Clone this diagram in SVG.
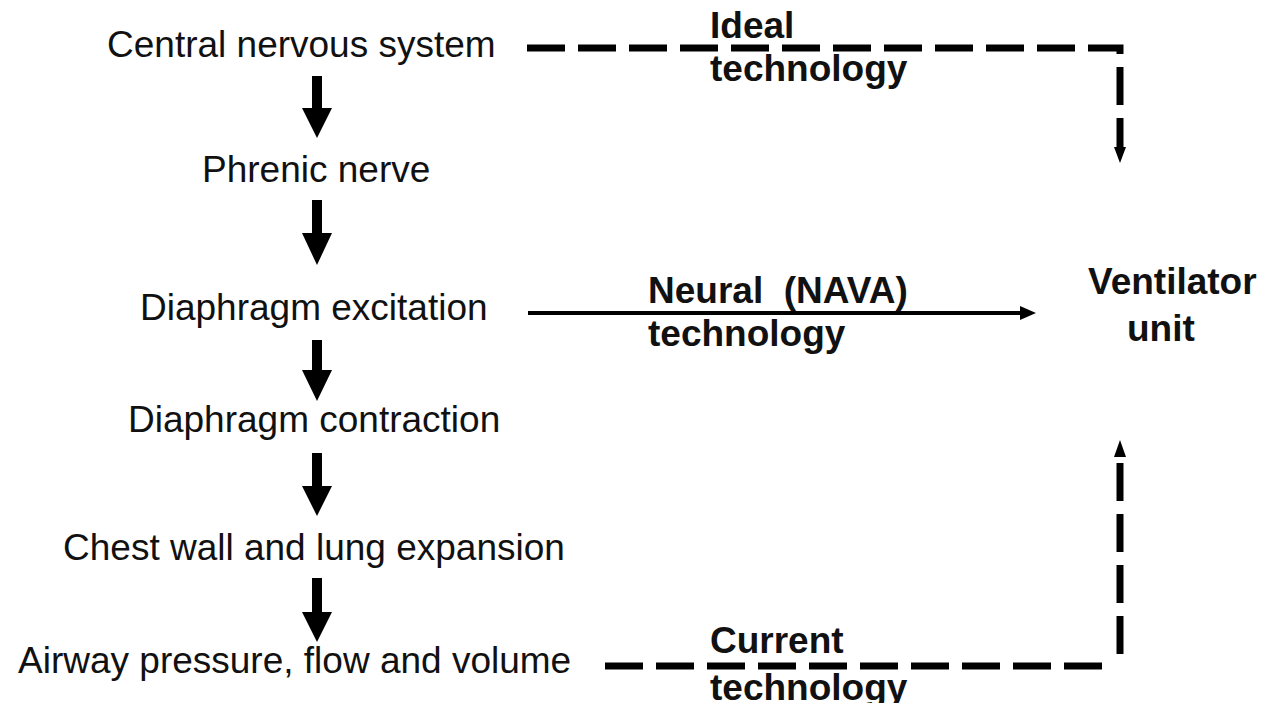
<svg xmlns="http://www.w3.org/2000/svg" width="1268" height="703" viewBox="0 0 1268 703">
<style>
text{font-family:"Liberation Sans",Arial,sans-serif;font-size:37px;fill:#111}
.b{font-weight:bold}
.dash{fill:none;stroke:#000;stroke-width:7;stroke-dasharray:38 13}
.solid{fill:none;stroke:#000;stroke-width:4}
.big{fill:#000}
</style>
<rect width="1268" height="703" fill="#fff"/>
<g id="cns"><text x="107" y="57">Central nervous system</text></g>
<g id="phrenic"><text x="202" y="182">Phrenic nerve</text></g>
<g id="excitation"><text x="140" y="320">Diaphragm excitation</text></g>
<g id="contraction"><text x="128" y="432">Diaphragm contraction</text></g>
<g id="chest"><text x="63" y="560">Chest wall and lung expansion</text></g>
<g id="airway"><text x="18" y="673">Airway pressure, flow and volume</text></g>
<g id="ventilator"><text class="b" x="1088" y="294">Ventilator</text><text class="b" x="1127" y="341">unit</text></g>
<g id="connectors">
<path class="big" d="M312,76 H322 V108 H332 L317,138 L302,108 H312 Z"/>
<path class="big" d="M312,200 H322 V233 H332 L317,265 L302,233 H312 Z"/>
<path class="big" d="M312,340 H322 V370 H332 L317,401 L302,370 H312 Z"/>
<path class="big" d="M312,453 H322 V486 H332 L317,516 L302,486 H312 Z"/>
<path class="big" d="M312,578 H322 V612 H332 L317,642 L302,612 H312 Z"/>
<path class="dash" d="M527,48 H1120 V147"/>
<path class="big" d="M1114,147 H1126 L1120,163 Z"/>
<line class="solid" x1="528" y1="313" x2="1022" y2="313"/>
<path class="big" d="M1020,306 L1036,313 L1020,320 Z"/>
<line class="dash" x1="605" y1="666" x2="1110" y2="666"/>
<line class="dash" x1="1120" y1="654" x2="1120" y2="456"/>
<path class="big" d="M1114,457 H1126 L1120,440 Z"/>
<text class="b" x="710" y="38">Ideal</text>
<text class="b" x="710" y="81">technology</text>
<text class="b" x="648" y="303" xml:space="preserve">Neural  (NAVA)</text>
<text class="b" x="648" y="346">technology</text>
<text class="b" x="710" y="653">Current</text>
<text class="b" x="710" y="700">technology</text>
</g>
</svg>
